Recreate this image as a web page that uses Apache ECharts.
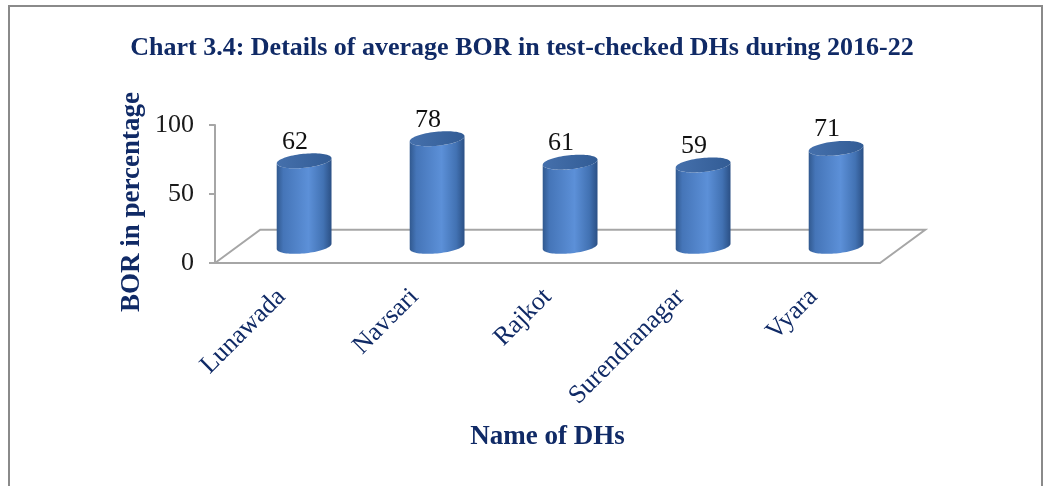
<!DOCTYPE html>
<html lang="en">
<head>
    <meta charset="UTF-8">
    <title>Chart 3.4</title>
    <style type="text/css">
        html,
        body,
        .canvas {
            padding: 0;
            margin: 0;
            overflow: hidden;
            background-color: #fff;
            width: 100%;
            height: 100%;
        }
    </style>
</head>
<body>
<div class="canvas" id="main"></div>
<script type="text/javascript" src="https://cdn.jsdelivr.net/npm/echarts@6/dist/echarts.min.js"></script>
<script>
    // data
    const hospitals = ['Lunawada', 'Navsari', 'Rajkot', 'Surendranagar', 'Vyara'];
    const borValues = [62, 78, 61, 59, 71];
    const yTicks = { min: 0, max: 100, interval: 50 };

    const NAVY = '#102a66';
    const SERIF = '"Liberation Serif", "Times New Roman", serif';

    // depth of the fake 3d floor, as share of one category band
    const DEPTH_X = 0.34;
    const DEPTH_Y = 0.25;
    const TILT = 0.1; // radians, ellipse tilt

    function ellipsePt(cx, cy, a, b, t) {
        const u = a * Math.cos(t), v = b * Math.sin(t);
        return [cx + u * Math.cos(TILT) + v * Math.sin(TILT),
                cy - u * Math.sin(TILT) + v * Math.cos(TILT)];
    }

    function renderFloor(params, api) {
        const cs = params.coordSys;
        const band = api.size([1, 0])[0];
        const dx = band * DEPTH_X, dy = band * DEPTH_Y;
        const l = cs.x, r = cs.x + cs.width, b = cs.y + cs.height;
        return {
            type: 'polyline',
            shape: { points: [[l, b], [l + dx, b - dy], [r + dx, b - dy], [r, b]] },
            style: { stroke: '#a6a6a6', lineWidth: 2, fill: null }
        };
    }

    function renderCylinder(params, api) {
        const cat = api.value(0), val = api.value(1);
        const base = api.coord([cat, 0]);
        const top = api.coord([cat, val]);
        const band = api.size([1, 0])[0];
        const cx = base[0] + band * DEPTH_X / 2;
        const yb = base[1] - band * DEPTH_Y / 2;
        const yt = top[1] - band * DEPTH_Y / 2;
        const a = band * 0.207, b = 7;
        const t0 = Math.atan2(b * Math.sin(TILT), a * Math.cos(TILT));
        const n = 40;
        const body = [];
        for (let i = 0; i <= n; i++) body.push(ellipsePt(cx, yb, a, b, t0 + Math.PI * i / n));
        for (let i = n; i >= 0; i--) body.push(ellipsePt(cx, yt, a, b, t0 + Math.PI * i / n));
        const cap = [];
        for (let i = 0; i < 2 * n; i++) cap.push(ellipsePt(cx, yt, a, b, Math.PI * i / n));
        return {
            type: 'group',
            children: [{
                type: 'polygon',
                shape: { points: body },
                style: {
                    fill: new echarts.graphic.LinearGradient(0, 0, 1, 0, [
                        { offset: 0, color: '#31598f' },
                        { offset: 0.12, color: '#4575b8' },
                        { offset: 0.58, color: '#5c90d8' },
                        { offset: 0.85, color: '#4272b3' },
                        { offset: 1, color: '#2b5085' }
                    ])
                }
            }, {
                type: 'polygon',
                shape: { points: cap },
                style: {
                    fill: new echarts.graphic.LinearGradient(0, 0, 1, 0, [
                        { offset: 0, color: '#4570ac' },
                        { offset: 1, color: '#325c95' }
                    ])
                }
            }, {
                type: 'text',
                x: cx - 9,
                y: yt - 19,
                style: {
                    text: String(val),
                    font: '26px ' + SERIF,
                    fill: '#111',
                    align: 'center',
                    verticalAlign: 'middle'
                }
            }]
        };
    }

    const chart = echarts.init(document.getElementById('main'));
    chart.setOption({
        animation: false,
        title: {
            text: 'Chart 3.4: Details of average BOR in test-checked DHs during 2016-22',
            left: 'center',
            top: 30,
            textStyle: { fontFamily: SERIF, fontSize: 26, fontWeight: 'bold', color: NAVY }
        },
        graphic: [{
            type: 'rect',
            shape: { x: 9, y: 6, width: 1033, height: 520 },
            style: { fill: null, stroke: '#8a8a8a', lineWidth: 2 },
            silent: true
        }, {
            // y axis title sits a little below the axis middle in the reference
            type: 'text',
            x: 132,
            y: 202,
            rotation: Math.PI / 2,
            style: {
                text: 'BOR in percentage',
                font: 'bold 27px ' + SERIF,
                fill: NAVY,
                align: 'center',
                verticalAlign: 'middle'
            }
        }],
        grid: { left: 215, top: 125, width: 665, height: 138, outerBoundsMode: 'none' },
        xAxis: {
            type: 'category',
            data: hospitals,
            name: 'Name of DHs',
            nameLocation: 'middle',
            nameGap: 174,
            nameTextStyle: { fontFamily: SERIF, fontSize: 27, fontWeight: 'bold', color: NAVY, verticalAlign: 'middle' },
            axisLine: { lineStyle: { color: '#a6a6a6', width: 2 } },
            axisTick: { length: 7, lineStyle: { color: '#a6a6a6', width: 2 } },
            axisLabel: { rotate: 45, interval: 0, margin: 30, fontFamily: SERIF, fontSize: 26, color: NAVY }
        },
        yAxis: {
            type: 'value',
            min: yTicks.min,
            max: yTicks.max,
            interval: yTicks.interval,
            axisLine: { show: true, lineStyle: { color: '#a6a6a6', width: 2 } },
            axisTick: { show: true, length: 6, lineStyle: { color: '#a6a6a6', width: 2 } },
            splitLine: { show: false },
            axisLabel: { margin: 21, fontFamily: SERIF, fontSize: 26, color: '#1a1a1a' }
        },
        series: [{
            type: 'custom',
            z: 1,
            silent: true,
            renderItem: renderFloor,
            data: [[0, 0]]
        }, {
            type: 'custom',
            z: 2,
            renderItem: renderCylinder,
            data: borValues.map((v, i) => [i, v])
        }]
    });
</script>
</body>
</html>
